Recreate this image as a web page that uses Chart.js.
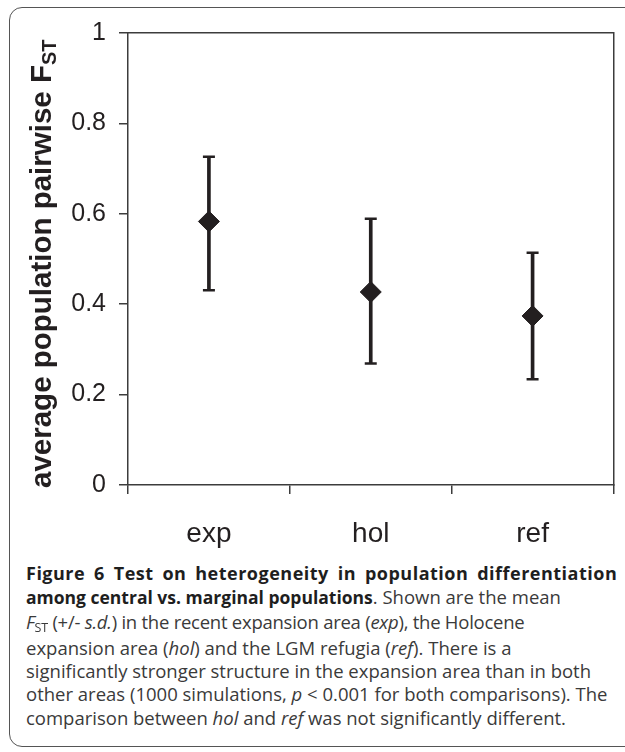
<!DOCTYPE html>
<html>
<head>
<meta charset="utf-8">
<script src="https://cdn.jsdelivr.net/npm/chart.js@4/dist/chart.umd.min.js"></script>
<style>
  html, body { margin: 0; padding: 0; background: #fff; }
  body { width: 625px; height: 752px; position: relative; overflow: hidden; }
  #card {
    position: absolute; left: 9px; top: 7px; width: 660px; height: 740px;
    border: 1.5px solid #555; border-radius: 13px; box-sizing: border-box;
  }
  #chartBox { position: absolute; left: 0; top: 0; width: 625px; height: 560px; }
  #yTitle {
    position: absolute; left: 27px; top: 488px;
    transform-origin: left top; transform: rotate(-90deg);
    font-family: "Liberation Sans", Arial, sans-serif; font-weight: bold;
    font-size: 29.5px; line-height: 28px; color: #231f20; white-space: nowrap;
  }
  #yTitle span.sub { font-size: 20px; position: relative; top: 5px; }
  #caption {
    position: absolute; left: 26px; top: 561px;
    font-family: "Open Sans", sans-serif; font-size: 18.5px; line-height: 23.3px;
    color: #3a3a3a; white-space: nowrap;
  }
  #caption b { color: #1e1e1e; font-size: 17.5px; }
  #caption b.first { font-size: 18px; letter-spacing: 0.5px; word-spacing: 3.7px; }
  #caption .tight { letter-spacing: -0.25px; }
  #caption sub { font-size: 12.5px; vertical-align: baseline; position: relative; top: 3px; }
</style>
</head>
<body>
<div id="card"></div>
<div id="chartBox"><canvas id="fstChart" width="625" height="560"></canvas></div>
<div id="yTitle">average population pairwise F<span class="sub">ST</span></div>
<div id="caption">
  <div><b class="first">Figure 6 Test on heterogeneity in population differentiation</b></div>
  <div><b>among central vs. marginal populations</b>. Shown are the mean</div>
  <div class="tight"><i>F</i><sub>ST</sub> (+/- <i>s.d.</i>) in the recent expansion area (<i>exp</i>), the Holocene</div>
  <div>expansion area (<i>hol</i>) and the LGM refugia (<i>ref</i>). There is a</div>
  <div>significantly stronger structure in the expansion area than in both</div>
  <div>other areas (1000 simulations, <i>p</i> &lt; 0.001 for both comparisons). The</div>
  <div>comparison between <i>hol</i> and <i>ref</i> was not significantly different.</div>
</div>
<script>
// data
const categories = ['exp', 'hol', 'ref'];
const meanFst = [0.583, 0.427, 0.374];
const upperFst = [0.726, 0.589, 0.514];   // mean + s.d.
const lowerFst = [0.431, 0.269, 0.234];   // mean - s.d.
const yTickLabels = ['0', '0.2', '0.4', '0.6', '0.8', '1'];

const ink = '#231f20';
const axisCol = '#3c3c3c';
const labelFont = '"Liberation Sans", Arial, sans-serif';

// error bar stems as floating bars
const sdRanges = categories.map((c, i) => [lowerFst[i], upperFst[i]]);

const ctx = document.getElementById('fstChart').getContext('2d');
const fstChart = new Chart(ctx, {
    type: 'bar',
    data: {
        labels: categories,
        datasets: [
            {
                type: 'line',
                label: 'mean',
                data: meanFst,
                xAxisID: 'x', yAxisID: 'y',
                showLine: false,
                pointStyle: 'rectRot',
                pointRadius: 10.5,
                pointBackgroundColor: ink,
                pointBorderColor: ink,
                pointBorderWidth: 1,
                order: 0
            },
            {
                type: 'line',
                label: 'upper',
                data: upperFst,
                xAxisID: 'x', yAxisID: 'y',
                showLine: false,
                pointStyle: 'line',
                pointRadius: 6,
                pointBorderColor: ink,
                pointBorderWidth: 2.5,
                order: 1
            },
            {
                type: 'line',
                label: 'lower',
                data: lowerFst,
                xAxisID: 'x', yAxisID: 'y',
                showLine: false,
                pointStyle: 'line',
                pointRadius: 6,
                pointBorderColor: ink,
                pointBorderWidth: 2.5,
                order: 1
            },
            {
                type: 'bar',
                label: 's.d.',
                data: sdRanges,
                xAxisID: 'x', yAxisID: 'y',
                backgroundColor: ink,
                borderWidth: 0,
                barThickness: 3,
                order: 2
            }
        ]
    },
    options: {
        responsive: false,
        animation: false,
        events: [],
        layout: { padding: { left: 0, right: 4, top: 33, bottom: 0 } },
        plugins: {
            legend: { display: false },
            tooltip: { enabled: false }
        },
        scales: {
            x: {
                type: 'category',
                position: 'bottom',
                offset: true,
                grid: { offset: true, drawOnChartArea: false, drawTicks: true, tickLength: 9, color: axisCol, lineWidth: 1.5 },
                border: { color: axisCol, width: 1.5 },
                ticks: { font: { family: labelFont, size: 28 }, color: ink, padding: 23, maxRotation: 0 },
                afterFit: s => { s.height = 75; }
            },
            y: {
                type: 'linear',
                position: 'left',
                min: 0,
                max: 1,
                grid: { drawOnChartArea: false, drawTicks: true, tickLength: 9, color: axisCol, lineWidth: 1.5 },
                border: { color: axisCol, width: 1.5 },
                ticks: {
                    stepSize: 0.2,
                    font: { family: labelFont, size: 25 },
                    color: ink,
                    padding: 13,
                    callback: (v, i) => yTickLabels[i]
                },
                afterFit: s => { s.width = 128; }
            },
            x2: {
                type: 'category',
                position: 'top',
                grid: { display: false },
                ticks: { display: false },
                border: { color: axisCol, width: 1.5 },
                afterFit: s => { s.height = 0; }
            },
            y2: {
                type: 'linear',
                position: 'right',
                min: 0,
                max: 1,
                grid: { display: false },
                ticks: { display: false },
                border: { color: axisCol, width: 1.5 },
                afterFit: s => { s.width = 0; }
            }
        }
    }
});
</script>
</body>
</html>
